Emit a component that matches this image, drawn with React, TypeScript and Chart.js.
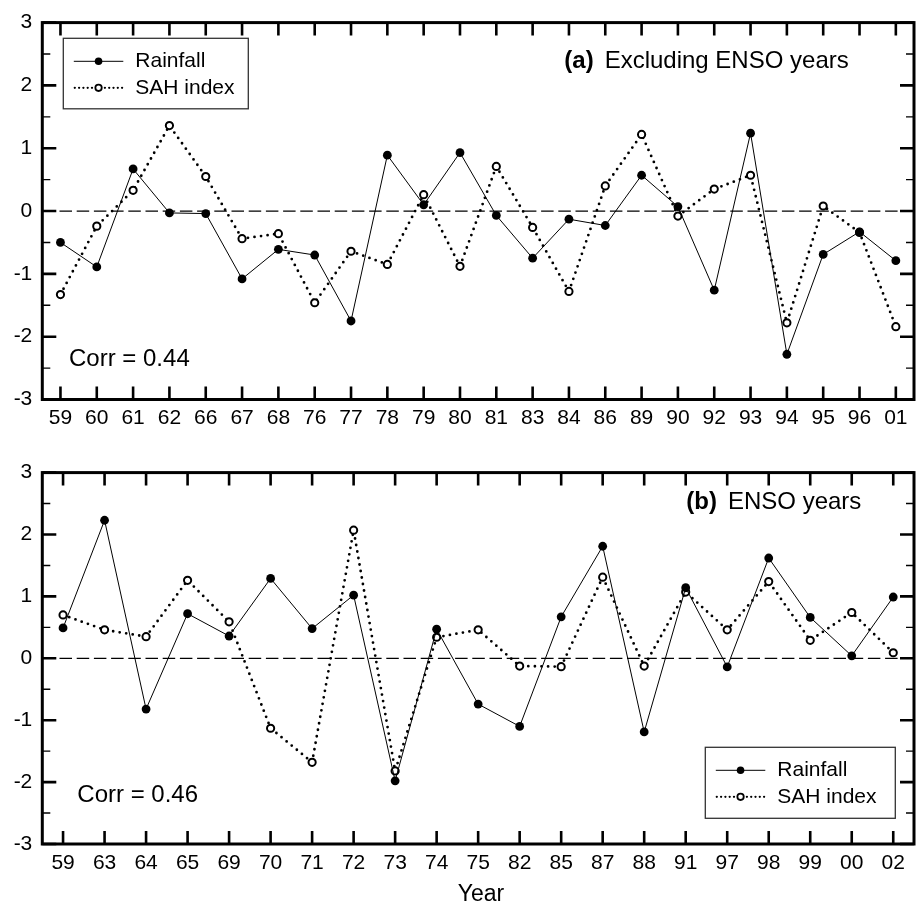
import React, { useEffect, useRef } from 'react';
import { Chart, registerables } from 'chart.js';

Chart.register(...registerables);

// ---------- DATA ----------
const yearsA = ['59', '60', '61', '62', '66', '67', '68', '76', '77', '78', '79', '80', '81', '83', '84', '86', '89', '90', '92', '93', '94', '95', '96', '01'];
const rainfallA = [-0.5, -0.89, 0.67, -0.03, -0.04, -1.08, -0.61, -0.7, -1.75, 0.89, 0.1, 0.93, -0.07, -0.75, -0.13, -0.23, 0.57, 0.07, -1.26, 1.24, -2.28, -0.69, -0.33, -0.79];
const sahA = [-1.33, -0.24, 0.33, 1.36, 0.55, -0.44, -0.36, -1.46, -0.64, -0.85, 0.26, -0.88, 0.71, -0.26, -1.28, 0.4, 1.22, -0.08, 0.35, 0.57, -1.78, 0.08, -0.34, -1.84];

const yearsB = ['59', '63', '64', '65', '69', '70', '71', '72', '73', '74', '75', '82', '85', '87', '88', '91', '97', '98', '99', '00', '02'];
const rainfallB = [0.49, 2.23, -0.82, 0.72, 0.36, 1.29, 0.48, 1.02, -1.98, 0.47, -0.74, -1.1, 0.67, 1.81, -1.19, 1.14, -0.14, 1.62, 0.66, 0.04, 0.99];
const sahB = [0.7, 0.46, 0.35, 1.26, 0.59, -1.13, -1.68, 2.07, -1.82, 0.34, 0.46, -0.125, -0.135, 1.31, -0.125, 1.07, 0.46, 1.24, 0.29, 0.74, 0.09];

const yMajorTicks = [-3, -2, -1, 0, 1, 2, 3];
const yMinorTicks = [-2.5, -1.5, -0.5, 0.5, 1.5, 2.5];
const seriesLabels = ['Rainfall', 'SAH index'];

const FONT = '"Liberation Sans", Arial, Helvetica, sans-serif';

type PanelOpts = {
  tag: string;
  title: string;
  titleX: number;
  titleY: number;
  corr: string;
  corrX: number;
  corrY: number;
  legendX: number;
  legendY: number;
  legendW: number;
  legendH: number;
  yearLabel?: { x: number; y: number };
};

const decorPlugin = {
  id: 'decor',
  beforeDatasetsDraw(chart: any) {
    const { ctx, chartArea: ca, scales } = chart;
    const y0 = scales.y.getPixelForValue(0);
    ctx.save();
    ctx.strokeStyle = '#000';
    ctx.lineWidth = 1.2;
    ctx.setLineDash([12.5, 4.7]);
    ctx.beginPath();
    ctx.moveTo(ca.left, y0);
    ctx.lineTo(ca.right, y0);
    ctx.stroke();
    ctx.restore();
  },
  afterDraw(chart: any) {
    const { ctx, chartArea: ca, scales } = chart;
    const o: PanelOpts = chart.options.plugins.decor;
    ctx.save();
    ctx.strokeStyle = '#000';
    ctx.fillStyle = '#000';
    ctx.setLineDash([]);
    // x ticks (inward, top and bottom)
    ctx.lineWidth = 2.6;
    const n = chart.data.labels.length;
    for (let i = 0; i < n; i++) {
      const px = scales.x.getPixelForValue(i);
      ctx.beginPath();
      ctx.moveTo(px, ca.bottom);
      ctx.lineTo(px, ca.bottom - 13);
      ctx.moveTo(px, ca.top);
      ctx.lineTo(px, ca.top + 13);
      ctx.stroke();
    }
    // y major ticks
    for (const v of yMajorTicks) {
      const py = scales.y.getPixelForValue(v);
      ctx.beginPath();
      ctx.moveTo(ca.left, py);
      ctx.lineTo(ca.left + 14, py);
      ctx.moveTo(ca.right, py);
      ctx.lineTo(ca.right - 14, py);
      ctx.stroke();
    }
    // y minor ticks
    ctx.lineWidth = 1.4;
    for (const v of yMinorTicks) {
      const py = scales.y.getPixelForValue(v);
      ctx.beginPath();
      ctx.moveTo(ca.left, py);
      ctx.lineTo(ca.left + 8, py);
      ctx.moveTo(ca.right, py);
      ctx.lineTo(ca.right - 8, py);
      ctx.stroke();
    }
    // frame
    ctx.lineWidth = 3;
    ctx.strokeRect(ca.left, ca.top, ca.right - ca.left, ca.bottom - ca.top);

    // title
    ctx.textBaseline = 'middle';
    ctx.textAlign = 'left';
    ctx.font = `bold 24px ${FONT}`;
    ctx.fillText(o.tag, o.titleX, o.titleY);
    const tw = ctx.measureText(o.tag).width;
    ctx.font = `24px ${FONT}`;
    ctx.fillText(o.title, o.titleX + tw + 11, o.titleY);

    // corr
    ctx.font = `24px ${FONT}`;
    ctx.fillText(o.corr, o.corrX, o.corrY);

    // legend box
    ctx.fillStyle = '#fff';
    ctx.fillRect(o.legendX, o.legendY, o.legendW, o.legendH);
    ctx.strokeStyle = '#333';
    ctx.lineWidth = 1.3;
    ctx.strokeRect(o.legendX, o.legendY, o.legendW, o.legendH);
    const ds = chart.data.datasets;
    const row1 = o.legendY + 23;
    const row2 = o.legendY + 49.5;
    const lx0 = o.legendX + 10.5;
    const lx1 = o.legendX + 60;
    const mx = (lx0 + lx1) / 2;
    // rainfall sample
    ctx.strokeStyle = '#000';
    ctx.fillStyle = '#000';
    ctx.lineWidth = 1;
    ctx.beginPath();
    ctx.moveTo(lx0, row1);
    ctx.lineTo(lx1, row1);
    ctx.stroke();
    ctx.beginPath();
    ctx.arc(mx, row1, 3.8, 0, Math.PI * 2);
    ctx.fill();
    // sah sample
    ctx.lineWidth = 2.3;
    ctx.lineCap = 'round';
    ctx.setLineDash([0, 4.3]);
    ctx.beginPath();
    ctx.moveTo(lx0 + 1, row2);
    ctx.lineTo(lx1, row2);
    ctx.stroke();
    ctx.setLineDash([]);
    ctx.lineCap = 'butt';
    ctx.fillStyle = '#fff';
    ctx.beginPath();
    ctx.arc(mx, row2, 3.2, 0, Math.PI * 2);
    ctx.fill();
    ctx.lineWidth = 1.8;
    ctx.stroke();
    // legend text
    ctx.fillStyle = '#000';
    ctx.font = `21px ${FONT}`;
    ctx.textAlign = 'left';
    ctx.fillText(ds[0].label, o.legendX + 72, row1);
    ctx.fillText(ds[1].label, o.legendX + 72, row2);

    // Year label
    if (o.yearLabel) {
      ctx.textAlign = 'center';
      ctx.font = `23px ${FONT}`;
      ctx.fillText('Year', o.yearLabel.x, o.yearLabel.y);
    }
    ctx.restore();
  },
};

function makeConfig(
  labels: string[],
  rain: number[],
  sah: number[],
  padTop: number,
  xAxisHeight: number,
  tickPad: number,
  decor: PanelOpts
): any {
  return {
    type: 'line',
    data: {
      labels,
      datasets: [
        {
          label: seriesLabels[0],
          data: rain,
          borderColor: '#000',
          borderWidth: 1,
          pointRadius: 4.4,
          pointBackgroundColor: '#000',
          pointBorderColor: '#000',
          pointBorderWidth: 0,
          tension: 0,
          fill: false,
        },
        {
          label: seriesLabels[1],
          data: sah,
          borderColor: '#000',
          borderWidth: 2.8,
          borderDash: [0, 6.6],
          borderCapStyle: 'round',
          pointRadius: 3.6,
          pointBackgroundColor: '#fff',
          pointBorderColor: '#000',
          pointBorderWidth: 2,
          tension: 0,
          fill: false,
        },
      ],
    },
    options: {
      responsive: false,
      animation: false,
      events: [],
      layout: { padding: { top: padTop, right: 2.7, left: 0, bottom: 0 } },
      plugins: {
        legend: { display: false },
        tooltip: { enabled: false },
        decor,
      },
      scales: {
        x: {
          type: 'category',
          offset: true,
          grid: { display: false, drawTicks: false },
          border: { display: false },
          ticks: {
            color: '#000',
            font: { family: FONT, size: 21 },
            padding: tickPad,
            maxRotation: 0,
            autoSkip: false,
          },
          afterFit: (s: any) => {
            s.height = xAxisHeight;
          },
        },
        y: {
          min: -3,
          max: 3,
          grid: { display: false, drawTicks: false },
          border: { display: false },
          ticks: {
            stepSize: 1,
            color: '#000',
            font: { family: FONT, size: 21 },
            padding: 10,
          },
          afterFit: (s: any) => {
            s.width = 42.3;
          },
        },
      },
    },
    plugins: [decorPlugin],
  };
}

function Panel(props: { config: any; width: number; height: number; top: number }) {
  const ref = useRef<HTMLCanvasElement | null>(null);
  useEffect(() => {
    if (!ref.current) return;
    const chart = new Chart(ref.current, props.config);
    return () => chart.destroy();
  }, []);
  return (
    <canvas
      ref={ref}
      width={props.width}
      height={props.height}
      style={{ position: 'absolute', left: 0, top: props.top, width: props.width, height: props.height }}
    />
  );
}

export default function App() {
  useEffect(() => {
    document.body.style.margin = '0';
    document.body.style.background = '#fff';
  }, []);

  const cfgA = makeConfig(yearsA, rainfallA, sahA, 16.7, 50.5, 6, {
    tag: '(a)',
    title: 'Excluding ENSO years',
    titleX: 564.3,
    titleY: 61,
    corr: 'Corr = 0.44',
    corrX: 69,
    corrY: 359.3,
    legendX: 63.3,
    legendY: 38.3,
    legendW: 185,
    legendH: 70.5,
  });

  const cfgB = makeConfig(yearsB, rainfallB, sahB, 10, 62, 6.4, {
    tag: '(b)',
    title: 'ENSO years',
    titleX: 686.3,
    titleY: 52.7,
    corr: 'Corr = 0.46',
    corrX: 77.3,
    corrY: 345,
    legendX: 705.3,
    legendY: 297.3,
    legendW: 190,
    legendH: 71,
    yearLabel: { x: 481, y: 445 },
  });

  return (
    <div style={{ position: 'relative', width: 920, height: 906, background: '#fff' }}>
      <Panel config={cfgA} width={920} height={450} top={0} />
      <Panel config={cfgB} width={920} height={456} top={450} />
    </div>
  );
}
